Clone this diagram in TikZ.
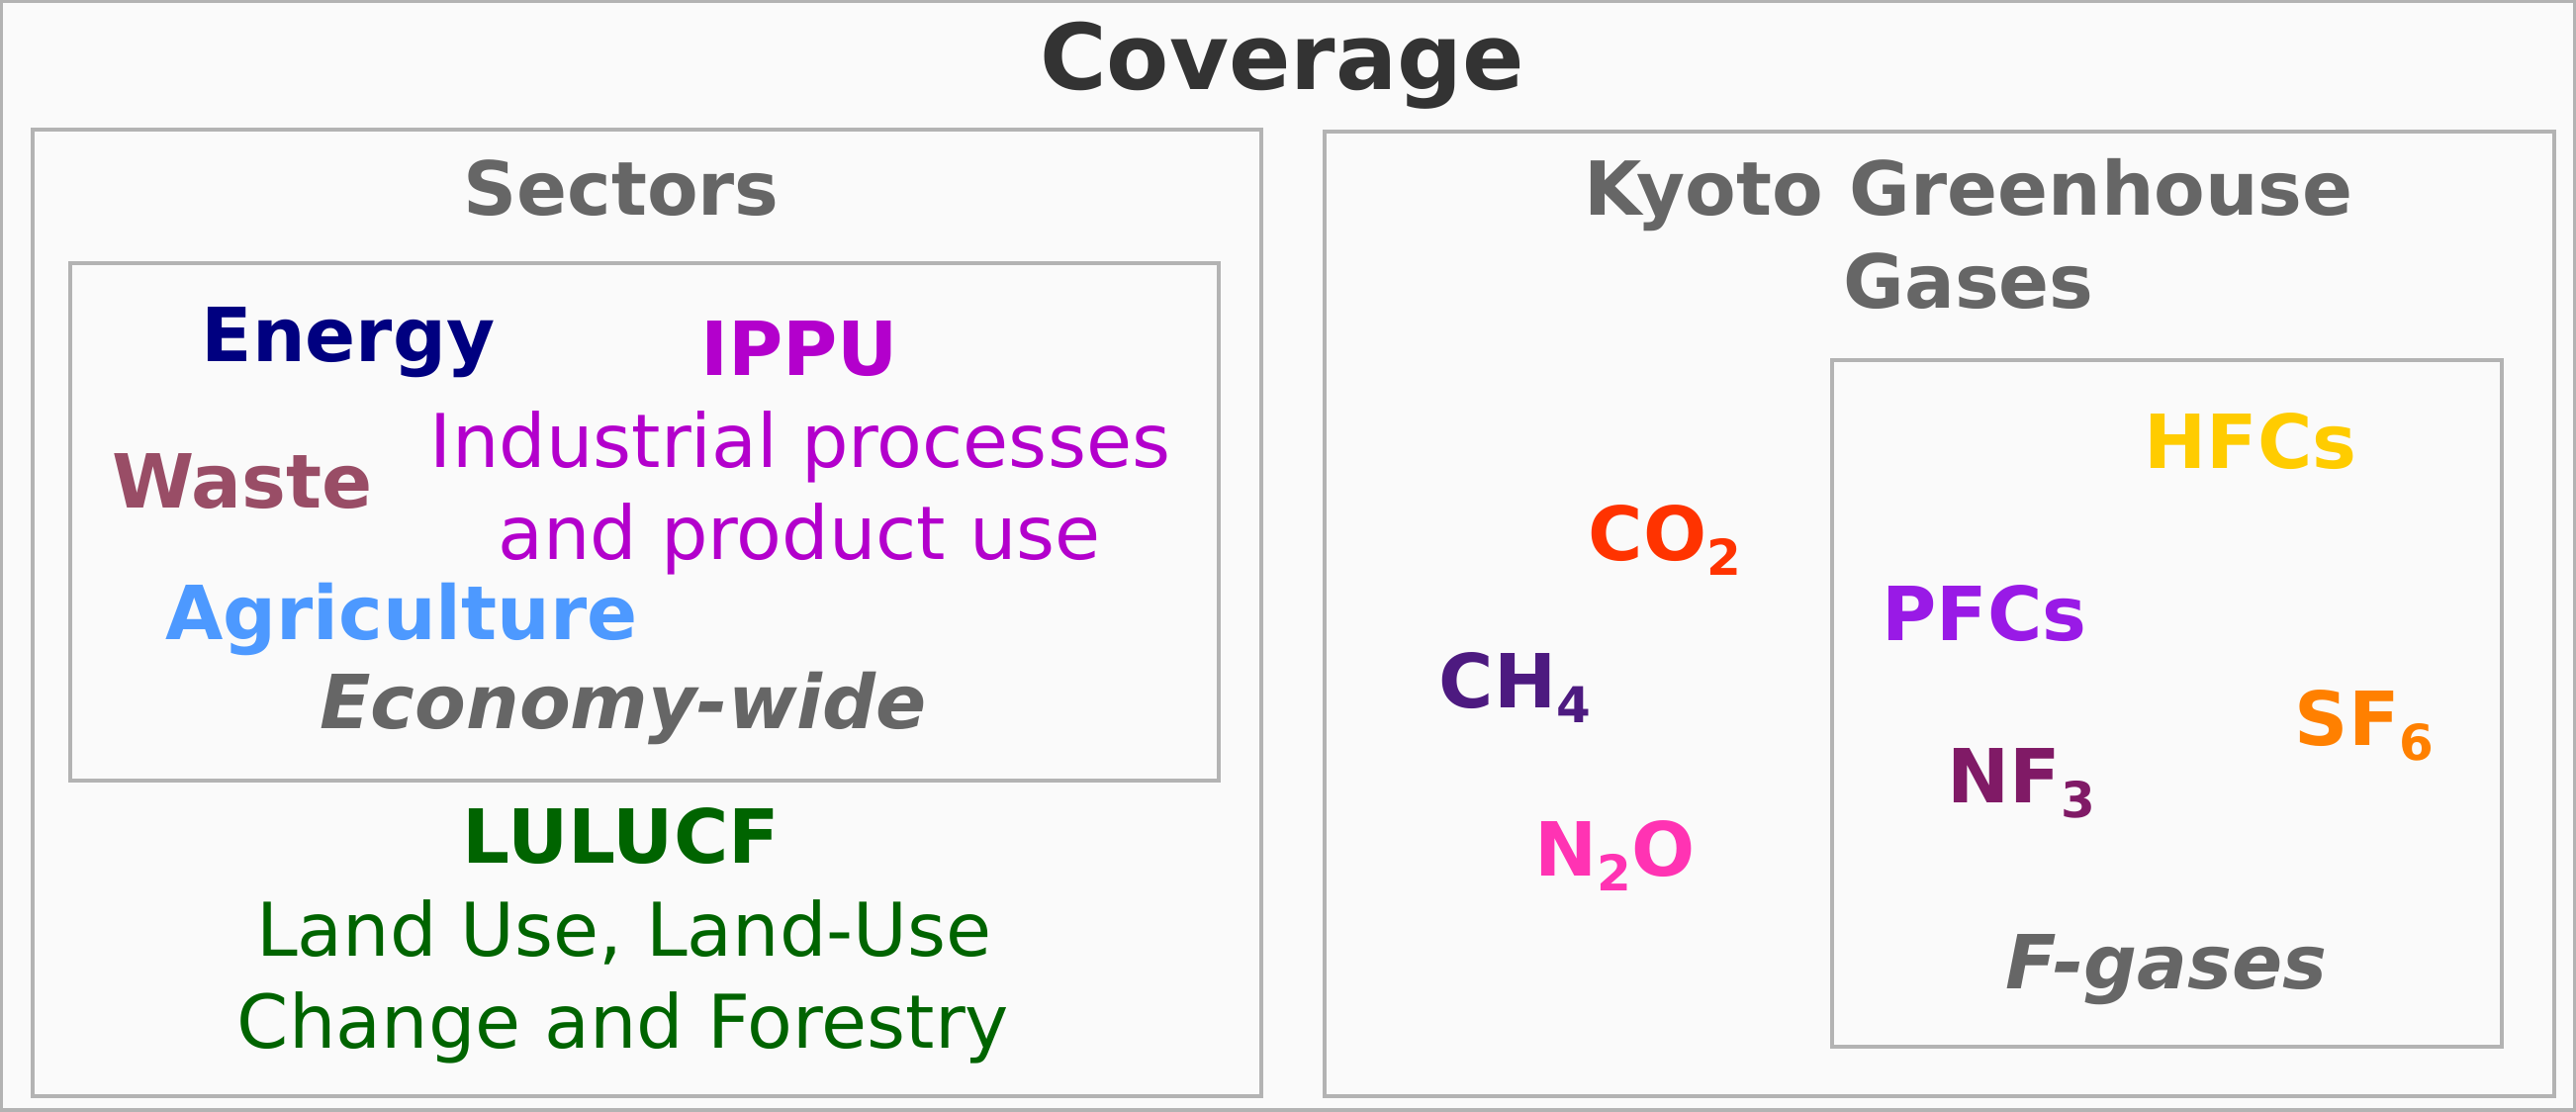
\documentclass[tikz,border=0pt]{standalone}
\usepackage{fontspec}
\setmainfont{DejaVu Sans}
\definecolor{bordergray}{HTML}{B3B3B3}
\definecolor{bgcol}{HTML}{FAFAFA}
\definecolor{titlecol}{HTML}{333333}
\definecolor{subcol}{HTML}{666666}
\definecolor{energycol}{HTML}{000080}
\definecolor{ippucol}{HTML}{B300CC}
\definecolor{wastecol}{HTML}{994D66}
\definecolor{agricol}{HTML}{4D99FF}
\definecolor{lulucfcol}{HTML}{006400}
\definecolor{cotwocol}{HTML}{FF3300}
\definecolor{chfourcol}{HTML}{4D1A80}
\definecolor{ntwoocol}{HTML}{FF33B3}
\definecolor{hfccol}{HTML}{FFCC00}
\definecolor{pfccol}{HTML}{991AE6}
\definecolor{sfsixcol}{HTML}{FF8000}
\definecolor{nfthreecol}{HTML}{801A66}
\newcommand\fsz[1]{\fontsize{#1}{#1}\selectfont}
\newcommand\subdig[1]{\raisebox{-0.15cm}{\fsz{14.2pt}#1}}
\begin{document}
\begin{tikzpicture}[x=0.01cm,y=-0.01cm,
  panel/.style={draw=bordergray,line width=0.9pt,fill=bgcol},
  lbl/.style={inner sep=0pt,anchor=base},
  lblw/.style={inner sep=0pt,anchor=base west},
  titlefont/.style={font=\fsz{26.2pt}\bfseries,text=titlecol},
  headfont/.style={font=\fsz{21.4pt}\bfseries,text=subcol},
  boldtxt/.style={font=\fsz{21.45pt}\bfseries},
  plaintxt/.style={font=\fsz{21.3pt}},
  itbold/.style={font=\fsz{21.45pt}\bfseries\itshape,text=subcol}]
\useasboundingbox (0,0) rectangle (2604,1123);
\draw[panel] (1,1) rectangle (2603,1122);
\draw[panel] (33,131) rectangle (1275,1108);
\draw[panel] (71,266) rectangle (1232,789);
\draw[panel] (1339,133) rectangle (2582,1108);
\draw[panel] (1852,364) rectangle (2529,1058);

\node[lbl,titlefont] (title) at (1296,90) {Coverage};
\node[lbl,headfont] (sectors) at (628,217) {Sectors};
\node[lbl,headfont] (kyoto1) at (1990,217) {Kyoto Greenhouse};
\node[lbl,headfont] (kyoto2) at (1990,311) {Gases};

\node[lbl,boldtxt,text=energycol] (energy) at (352,365) {Energy};
\node[lbl,boldtxt,text=ippucol] (ippu) at (808,379) {IPPU};
\node[lbl,plaintxt,text=ippucol] (ippu1) at (809,472) {Industrial processes};
\node[lbl,plaintxt,text=ippucol] (ippu2) at (808,565) {and product use};
\node[lbl,boldtxt,text=wastecol] (waste) at (245,513) {Waste};
\node[lbl,boldtxt,text=agricol] (agri) at (406,646) {Agriculture};
\node[lbl,itbold] (econ) at (630,736) {Economy-wide};

\node[lbl,boldtxt,text=lulucfcol] (lulucf) at (628,872) {LULUCF};
\node[lbl,plaintxt,text=lulucfcol] (lulucf1) at (631,966) {Land Use, Land-Use};
\node[lbl,plaintxt,text=lulucfcol] (lulucf2) at (630,1059) {Change and Forestry};

\node[lbl,boldtxt,text=hfccol] (hfc) at (2275,473) {HFCs};
\node[lblw,boldtxt,text=cotwocol] (co2) at (1605,566) {CO\subdig{2}};
\node[lbl,boldtxt,text=pfccol] (pfc) at (2006,647) {PFCs};
\node[lblw,boldtxt,text=chfourcol] (ch4) at (1454,715) {CH\subdig{4}};
\node[lblw,boldtxt,text=sfsixcol] (sf6) at (2319,753) {SF\subdig{6}};
\node[lblw,boldtxt,text=nfthreecol] (nf3) at (1968,811) {NF\subdig{3}};
\node[lblw,boldtxt,text=ntwoocol] (n2o) at (1551,885) {N\subdig{2}O};
\node[lbl,itbold] (fgas) at (2190,999) {F-gases};
\end{tikzpicture}
\end{document}
